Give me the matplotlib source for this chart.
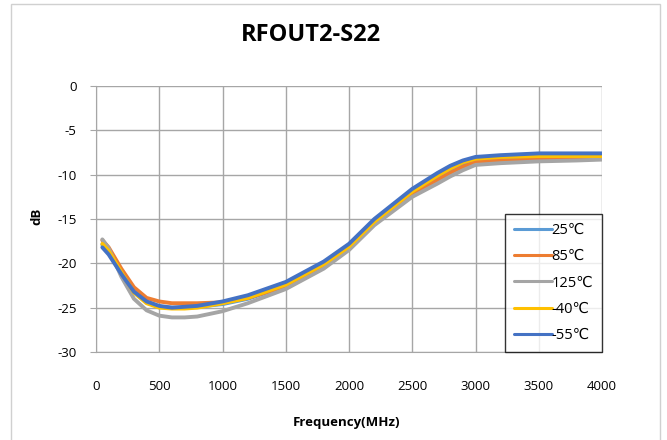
#!/usr/bin/env python3
"""RFOUT2-S22 return loss vs frequency at several temperatures."""

import matplotlib

matplotlib.use("Agg")
import matplotlib.pyplot as plt
from matplotlib.patches import Rectangle

plt.rcParams["font.family"] = ["Open Sans", "DejaVu Sans"]
plt.rcParams["axes.unicode_minus"] = False

# Frequency points (MHz)
freq_mhz = [50, 100, 200, 300, 400, 500, 600, 700, 800, 1000, 1200, 1500,
            1800, 2000, 2200, 2500, 2700, 2800, 2900, 3000, 3200, 3500, 3800, 4000]

# S22 (dB) per temperature
s22_25c = [-17.9, -18.7, -21.0, -23.2, -24.4, -24.9, -25.0, -25.0, -24.9, -24.6, -24.0, -22.6,
           -20.3, -18.3, -15.5, -12.1, -10.3, -9.5, -8.8, -8.4, -8.2, -8.05, -8.0, -8.0]
s22_85c = [-17.4, -18.2, -20.6, -22.7, -23.9, -24.3, -24.5, -24.5, -24.5, -24.4, -23.9, -22.6,
           -20.4, -18.4, -15.6, -12.3, -10.6, -9.8, -9.1, -8.6, -8.4, -8.3, -8.2, -8.2]
s22_125c = [-17.3, -18.3, -21.5, -24.0, -25.3, -25.9, -26.1, -26.1, -26.0, -25.4, -24.5, -22.9,
            -20.6, -18.5, -15.7, -12.5, -11.0, -10.2, -9.5, -8.9, -8.7, -8.5, -8.4, -8.3]
s22_m40c = [-17.8, -18.6, -21.0, -23.3, -24.5, -25.0, -25.1, -25.1, -25.0, -24.5, -23.9, -22.4,
            -20.1, -18.1, -15.3, -11.9, -10.1, -9.3, -8.6, -8.2, -8.0, -7.9, -7.9, -7.9]
s22_m55c = [-18.2, -19.0, -21.2, -23.2, -24.3, -24.8, -25.0, -24.9, -24.8, -24.3, -23.6, -22.1,
            -19.8, -17.8, -15.0, -11.6, -9.8, -9.0, -8.4, -8.0, -7.8, -7.6, -7.6, -7.6]

labels = ["25℃", "85℃", "125℃", "-40℃", "-55℃"]
series = [s22_25c, s22_85c, s22_125c, s22_m40c, s22_m55c]
colors = ["#5b9bd5", "#ed7d31", "#a5a5a5", "#ffc000", "#4472c4"]

x_ticks = [0, 500, 1000, 1500, 2000, 2500, 3000, 3500, 4000]
y_ticks = [0, -5, -10, -15, -20, -25, -30]

fig = plt.figure(figsize=(6.67, 4.4), dpi=100)
# chart-area border (bottom edge runs past the image)
fig.patches.append(Rectangle((11 / 667, -0.05), 649 / 667, 1.05 - 4 / 440,
                             transform=fig.transFigure, fill=False,
                             edgecolor="#d0d0d0", linewidth=1.0))

ax = fig.add_axes([96 / 667, 1 - 352 / 440, 506 / 667, 266 / 440])

for vals, lab, col in zip(series, labels, colors):
    ax.plot(freq_mhz, vals, color=col, linewidth=2.8, label=lab,
            solid_capstyle="round", solid_joinstyle="round")

ax.set_xlim(0, 4000)
ax.set_ylim(-30, 0)
ax.set_xticks(x_ticks)
ax.set_yticks(y_ticks)
ax.grid(True, color="#a6a6a6", linewidth=1.0)
ax.set_axisbelow(True)
for name, sp in ax.spines.items():
    sp.set_visible(name in ("left", "bottom"))
    sp.set_color("#a6a6a6")
ax.tick_params(axis="y", length=4, color="#a6a6a6", labelsize=9.5, pad=10)
ax.tick_params(axis="x", length=0, labelsize=9.5, pad=20)

fig.text(311 / 667, 1 - 35 / 440, "RFOUT2-S22", fontsize=17, fontweight="bold",
         ha="center", va="center")
fig.text(346 / 667, 1 - 422 / 440, "Frequency(MHz)", fontsize=9.5, fontweight="bold",
         ha="center", va="center")
fig.text(36.5 / 667, 1 - 216 / 440, "dB", fontsize=9.5, fontweight="bold",
         ha="center", va="center", rotation=90)

leg = ax.legend(loc="lower right", bbox_to_anchor=(1.0, 0.0), fontsize=10.5,
                frameon=True, fancybox=False, edgecolor="black",
                borderaxespad=0, handlelength=2.6, handletextpad=0.0,
                labelspacing=0.78, borderpad=0.6)
leg.get_frame().set_linewidth(1.0)
for line in leg.get_lines():
    line.set_linewidth(2.2)

fig.savefig("out.png", dpi=100)
